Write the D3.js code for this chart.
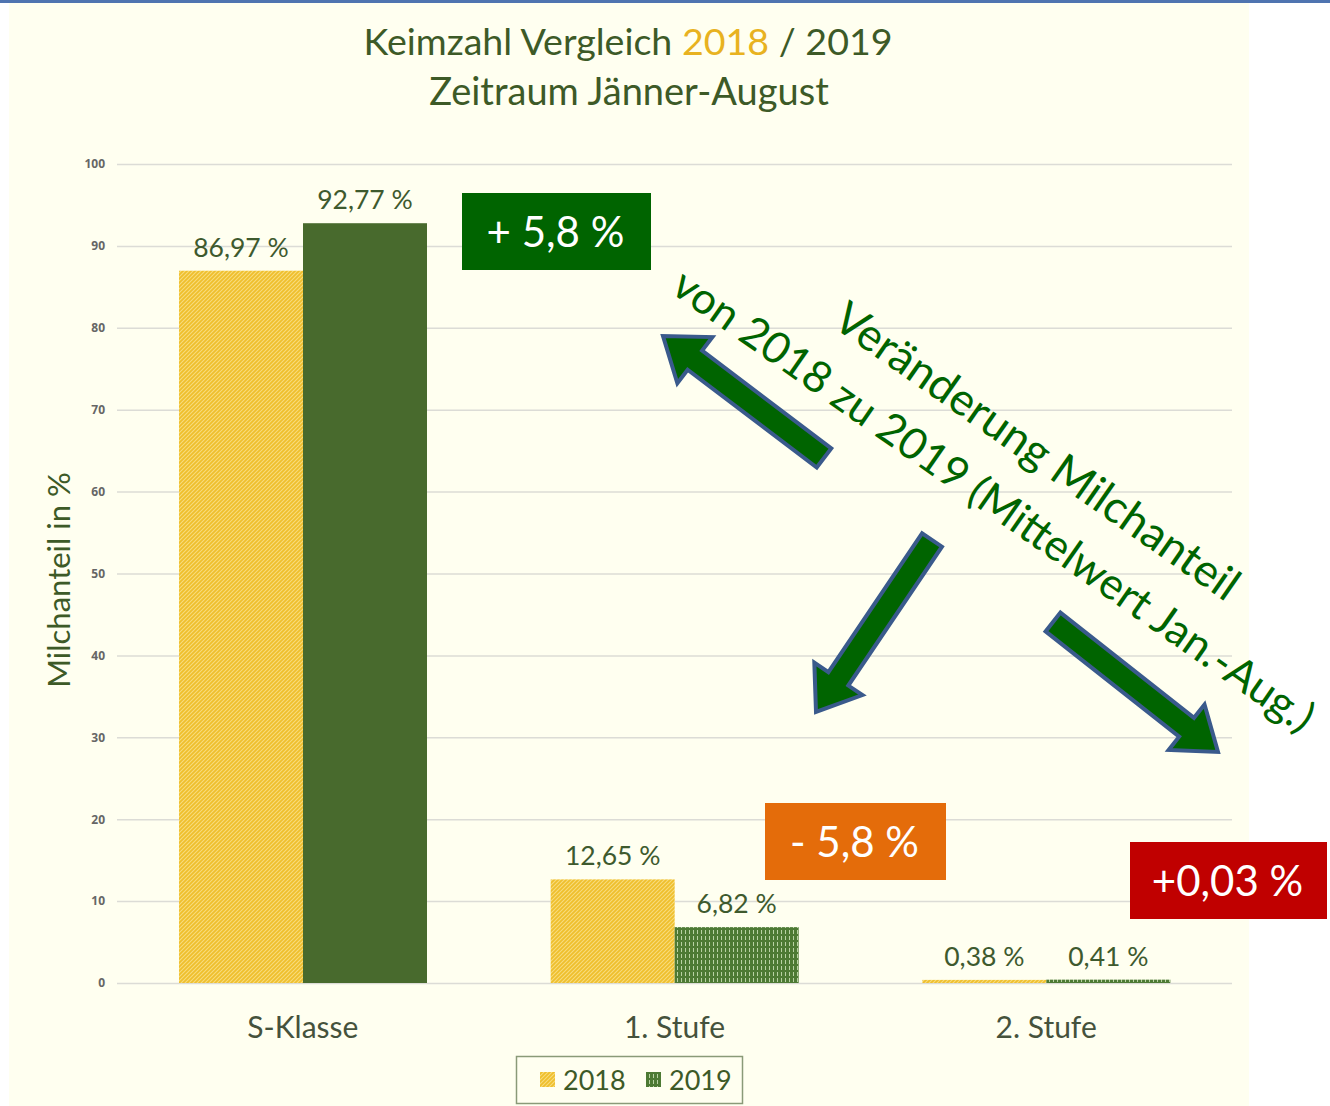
<!DOCTYPE html>
<html><head><meta charset="utf-8">
<script src="https://cdn.jsdelivr.net/npm/d3@7"></script>
<style>html,body{margin:0;padding:0;background:#fff;}svg{display:block;}</style>
</head><body>
<svg id="chart" width="1330" height="1106"></svg>
<script>
// ---- data ----
const categories = ["S-Klasse", "1. Stufe", "2. Stufe"];
const seriesNames = ["2018", "2019"];
const values2018 = [86.97, 12.65, 0.38];
const values2019 = [92.77, 6.82, 0.41];
const labels2018 = ["86,97 %", "12,65 %", "0,38 %"];
const labels2019 = ["92,77 %", "6,82 %", "0,41 %"];
const yTicks = [0, 10, 20, 30, 40, 50, 60, 70, 80, 90, 100];
const changeLabels = ["+ 5,8 %", "- 5,8 %", "+0,03 %"];

const FONT = "Lato, 'Open Sans', sans-serif";
const svg = d3.select("#chart");

// background
svg.append("rect").attr("x",0).attr("y",0).attr("width",1330).attr("height",1106).attr("fill","#ffffff");
svg.append("rect").attr("x",9).attr("y",3).attr("width",1240).attr("height",1103).attr("fill","#fffff0");
svg.append("rect").attr("x",0).attr("y",0).attr("width",1330).attr("height",3).attr("fill","#4f74b0");

// patterns
const defs = svg.append("defs");
const p18 = defs.append("pattern").attr("id","p2018").attr("patternUnits","userSpaceOnUse")
  .attr("width",4).attr("height",4);
p18.append("rect").attr("width",4).attr("height",4).attr("fill","#efbf2c");
p18.append("path").attr("d","M-1,1 L1,-1 M0,4 L4,0 M3,5 L5,3").attr("stroke","#f8dc7c").attr("stroke-width",1.1);
const p19 = defs.append("pattern").attr("id","p2019").attr("patternUnits","userSpaceOnUse")
  .attr("width",4).attr("height",6);
p19.append("rect").attr("width",4).attr("height",6).attr("fill","#4d7a34");
p19.append("rect").attr("x",1).attr("y",0).attr("width",1).attr("height",4).attr("fill","#b9d2a4");

// scales
const x0 = d3.scaleBand().domain(categories).range([117, 1232]).paddingInner(0).paddingOuter(0);
const x1 = d3.scaleBand().domain(seriesNames).range([62, 310]).padding(0);
const y = d3.scaleLinear().domain([0, 100]).range([983, 164]);

// grid
const gAxis = svg.append("g").attr("transform","translate(117,0)")
  .call(d3.axisLeft(y).tickValues(yTicks).tickSize(-1115).tickPadding(12));
gAxis.select(".domain").remove();
gAxis.selectAll(".tick line").attr("stroke","#dcdcd6").attr("stroke-width",1.5);
gAxis.selectAll(".tick text").attr("font-family","'Open Sans', sans-serif").attr("font-weight","bold")
  .attr("font-size",12).attr("fill","#666");

// bars
const rows = categories.map((c,i)=>({cat:c, vals:[
  {s:"2018", v:values2018[i], lab:labels2018[i], fill:"url(#p2018)"},
  {s:"2019", v:values2019[i], lab:labels2019[i], fill: i===0 ? "#486a2d" : "url(#p2019)"}
]}));
const gBars = svg.append("g");
rows.forEach(r=>{
  r.vals.forEach(d=>{
    const bx = x0(r.cat) + x1(d.s);
    gBars.append("rect").attr("x",bx).attr("y",y(d.v)).attr("width",x1.bandwidth()).attr("height",y(0)-y(d.v))
      .attr("fill",d.fill);
    gBars.append("text").attr("x",bx + x1.bandwidth()/2).attr("y",y(d.v)-14)
      .attr("text-anchor","middle").attr("font-family",FONT).attr("font-size",26.5).attr("fill","#3e5a2e")
      .text(d.lab);
  });
});

// category axis labels
const gX = svg.append("g").attr("transform","translate(0,983)")
  .call(d3.axisBottom(x0).tickSize(0).tickPadding(34));
gX.select(".domain").remove();
gX.selectAll(".tick text").attr("font-family",FONT).attr("font-size",30).attr("fill","#45523c");

// title
const title = svg.append("text").attr("x",628).attr("y",55).attr("text-anchor","middle")
  .attr("font-family",FONT).attr("font-size",37.6).attr("fill","#3d5a27");
title.append("tspan").text("Keimzahl Vergleich ");
title.append("tspan").attr("fill","#e8b220").text("2018");
title.append("tspan").text(" / 2019");
svg.append("text").attr("x",629).attr("y",105).attr("text-anchor","middle")
  .attr("font-family",FONT).attr("font-size",38).attr("fill","#3d5a27").text("Zeitraum Jänner-August");

// y axis label
svg.append("text").attr("transform","translate(70,580) rotate(-90)").attr("text-anchor","middle")
  .attr("font-family",FONT).attr("font-size",31).attr("fill","#3d5a27").text("Milchanteil in %");

// legend
svg.append("rect").attr("x",516.5).attr("y",1056.5).attr("width",226).attr("height",47)
  .attr("fill","none").attr("stroke","#8a9a78").attr("stroke-width",1.5);
[["2018","url(#p2018)",540],["2019","url(#p2019)",646]].forEach(([t,f,lx])=>{
  svg.append("rect").attr("x",lx).attr("y",1072).attr("width",15).attr("height",15).attr("fill",f);
  svg.append("text").attr("x",lx+23).attr("y",1090).attr("font-family",FONT).attr("font-size",27)
    .attr("fill","#3d5a27").text(t);
});

// change boxes
const boxes = [
  {x:462, y:193, w:189, h:77, fill:"#006400"},
  {x:765, y:803, w:181, h:77, fill:"#e46c0a"},
  {x:1130, y:842, w:197, h:77, fill:"#c00000"}
];
boxes.forEach((b,i)=>{
  svg.append("rect").attr("x",b.x).attr("y",b.y).attr("width",b.w).attr("height",b.h).attr("fill",b.fill);
  svg.append("text").attr("x",b.x+b.w/2-1).attr("y",b.y+b.h/2+15).attr("text-anchor","middle")
    .attr("font-family",FONT).attr("font-size",42).attr("fill","#fff").text(changeLabels[i]);
});

// block arrows
function blockArrow(tail, tip, shaftW, headW, headL){
  const dx = tip[0]-tail[0], dy = tip[1]-tail[1];
  const L = Math.hypot(dx,dy), ux = dx/L, uy = dy/L, px = -uy, py = ux;
  const bx = tip[0]-ux*headL, by = tip[1]-uy*headL;
  const pts = [
    [tail[0]+px*shaftW/2, tail[1]+py*shaftW/2],
    [bx+px*shaftW/2, by+py*shaftW/2],
    [bx+px*headW/2, by+py*headW/2],
    tip,
    [bx-px*headW/2, by-py*headW/2],
    [bx-px*shaftW/2, by-py*shaftW/2],
    [tail[0]-px*shaftW/2, tail[1]-py*shaftW/2]
  ];
  svg.append("path").attr("d", d3.line()(pts)+"Z").attr("fill","#006400")
    .attr("stroke","#3a5a8c").attr("stroke-width",4).attr("stroke-linejoin","miter");
}
blockArrow([824,458],[663,336],24,58,40);
blockArrow([932,540],[816,712],24,58,40);
blockArrow([1053,622],[1218,752],24,58,40);

// rotated annotation text
const ang = 35;
svg.append("text").attr("transform",`translate(1038,450) rotate(${ang})`).attr("text-anchor","middle")
  .attr("dominant-baseline","central").attr("font-family",FONT).attr("font-size",45).attr("fill","#006400")
  .text("Veränderung Milchanteil");
svg.append("text").attr("transform",`translate(995,499) rotate(${ang})`).attr("text-anchor","middle")
  .attr("dominant-baseline","central").attr("font-family",FONT).attr("font-size",43.5).attr("fill","#006400")
  .text("von 2018 zu 2019 (Mittelwert Jan.-Aug.)");
</script>
</body></html>
